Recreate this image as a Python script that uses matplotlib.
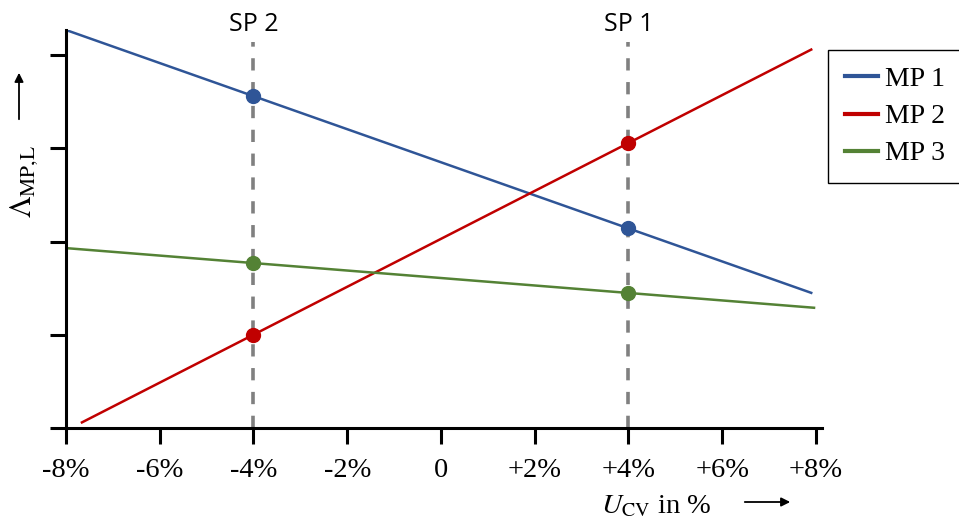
"""Sensitivity of MP indicators against U_CV deviation."""
import matplotlib

matplotlib.use("Agg")
import matplotlib.pyplot as plt

# x positions in %, y in arbitrary units (no y labels in the original)
mp1_line_x = [-8.0, 7.9]
mp1_line_y = [4.27, 1.45]
mp2_line_x = [-7.66, 7.9]
mp2_line_y = [0.06, 4.06]
mp3_line_x = [-8.0, 7.96]
mp3_line_y = [1.93, 1.29]

sp_x = [-4.0, 4.0]          # SP 2, SP 1
sp_names = ["SP 2", "SP 1"]
mp1_pts = [3.56, 2.145]
mp2_pts = [1.0, 3.056]
mp3_pts = [1.77, 1.448]

series = ["MP 1", "MP 2", "MP 3"]
colors = ["#2F5597", "#C00000", "#548235"]

xticks = [-8, -6, -4, -2, 0, 2, 4, 6, 8]
xticklabels = ["-8%", "-6%", "-4%", "-2%", "0", "+2%", "+4%", "+6%", "+8%"]
yticks = [0, 1, 2, 3, 4]


def main():
    """Draw it."""
    plt.rcParams["mathtext.fontset"] = "stix"
    plt.rcParams["font.family"] = ["Liberation Serif", "DejaVu Serif"]

    fig = plt.figure(figsize=(9.59, 5.20), dpi=100)
    ax = fig.add_axes([66 / 959, 92 / 520, 756 / 959, 398 / 520])

    lines = [
        (mp1_line_x, mp1_line_y, mp1_pts),
        (mp2_line_x, mp2_line_y, mp2_pts),
        (mp3_line_x, mp3_line_y, mp3_pts),
    ]

    # dashed guide lines for the two set points
    for x, name in zip(sp_x, sp_names):
        ax.plot([x, x], [0, 4.14], color="#808080", lw=2.6,
                dashes=(3.4, 3.2), zorder=1)
        ax.text(x, 4.33, name, ha="center", va="center", fontsize=18,
                family="Open Sans", clip_on=False)

    for (lx, ly, pts), name, col in zip(lines, series, colors):
        ax.plot(lx, ly, color=col, lw=1.8, label=name, zorder=2)
        ax.plot(sp_x, pts, ls="", marker="o", ms=10, color=col, zorder=3)

    ax.set_xlim(-8, 8.13)
    ax.set_ylim(0, 4.27)
    ax.set_xticks(xticks)
    ax.set_xticklabels(xticklabels)
    ax.set_yticks(yticks)
    ax.set_yticklabels([])
    for s in ["top", "right"]:
        ax.spines[s].set_visible(False)
    for s in ["left", "bottom"]:
        ax.spines[s].set_linewidth(2.2)
    ax.tick_params(axis="both", direction="out", length=11.5, width=2.2,
                   labelsize=20.5, pad=10)

    leg = ax.legend(loc="upper left", bbox_to_anchor=(828 / 959, 1 - 50 / 520),
                    bbox_transform=fig.transFigure, fontsize=20,
                    fancybox=False, edgecolor="black", framealpha=1,
                    handlelength=1.2, handletextpad=0.25, labelspacing=0.42,
                    borderpad=0.6, borderaxespad=0)
    leg.get_frame().set_linewidth(1.0)
    for h in leg.legend_handles:
        h.set_linewidth(3)

    # axis labels with arrows
    fig.text(24 / 959, 1 - 182 / 520, r"$\mathit{\Lambda}_{\mathrm{MP{,}L}}$",
             rotation=90, ha="center", va="center", fontsize=22)
    ax.annotate("", xy=(19 / 959, 1 - 70 / 520), xytext=(19 / 959, 1 - 122 / 520),
                xycoords="figure fraction",
                arrowprops=dict(arrowstyle="-|>", color="black", lw=1.3,
                                mutation_scale=13))
    fig.text(656 / 959, 1 - 507 / 520, r"$U_{\mathrm{CV}}$ in %",
             ha="center", va="center", fontsize=20.5)
    ax.annotate("", xy=(793 / 959, 1 - 502 / 520), xytext=(742 / 959, 1 - 502 / 520),
                xycoords="figure fraction",
                arrowprops=dict(arrowstyle="-|>", color="black", lw=1.3,
                                mutation_scale=13))

    fig.savefig("out.png", dpi=100)


if __name__ == "__main__":
    main()
